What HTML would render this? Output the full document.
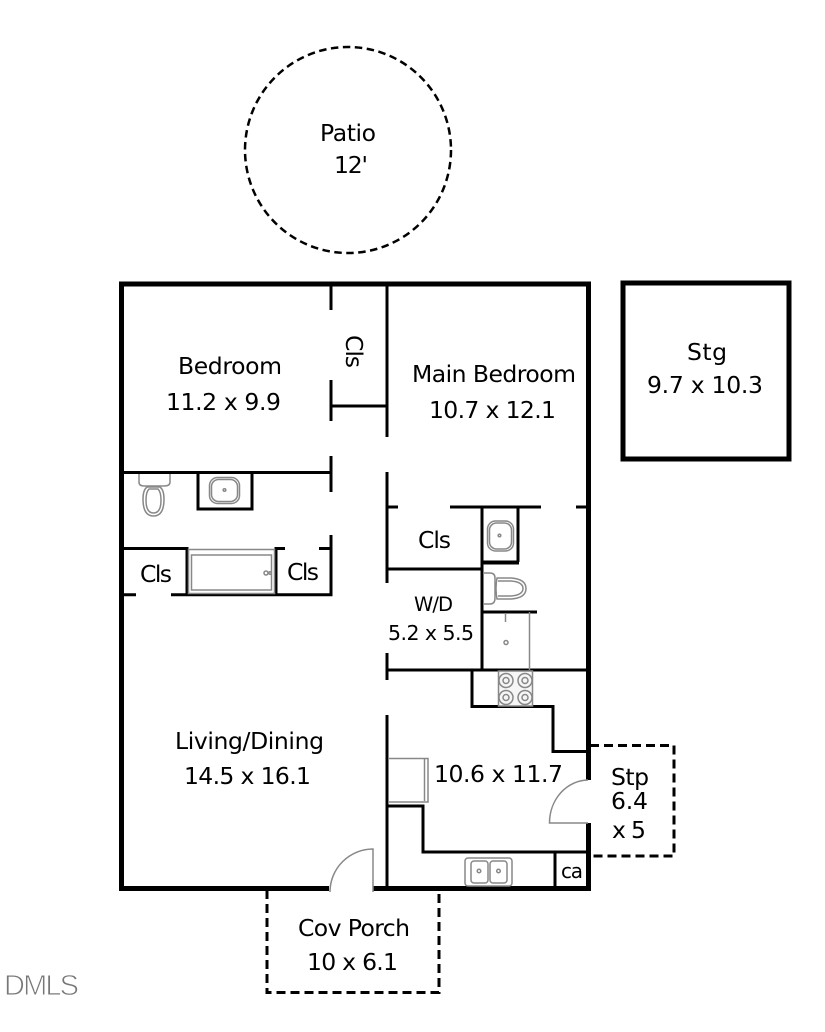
<!DOCTYPE html>
<html><head><meta charset="utf-8"><style>
html,body{margin:0;padding:0;background:#fff;width:825px;height:1032px;overflow:hidden}
svg{display:block}
text{font-family:"DejaVu Sans",sans-serif;font-size:23.5px;fill:#000}
.w{stroke:#000;stroke-width:3;fill:none}
.g{stroke:#888;stroke-width:1.5;fill:none}
.d{stroke:#000;stroke-width:3;fill:none;stroke-dasharray:9 5}
</style></head><body>
<svg width="825" height="1032" viewBox="0 0 825 1032" xmlns="http://www.w3.org/2000/svg">
<rect width="825" height="1032" fill="#fff"/>
<circle cx="348" cy="150" r="103" fill="none" stroke="#000" stroke-width="2.5" stroke-dasharray="7.5 4.5"/>
<path d="M590 745.5H674V856H590" class="d"/>
<path d="M267 890V992.5H439V890" class="d"/>
<rect x="623" y="283" width="166" height="176" fill="none" stroke="#000" stroke-width="5"/>
<path d="M329 888.5H121.5V284H588.5V780M588.5 823V888.5H373" fill="none" stroke="#000" stroke-width="5"/>
<path class="w" d="M331 284V310M331 380V421M331 456V492M387 284V437M331 406H387M121 472.500H331M198 472V509H252V472M196.500 509H253.500"/>
<path class="w" d="M121 548.500H187V595M121 594.700H136M171 594.700H331V535M276 595V548.500H285M319 548.500H331"/>
<path class="w" d="M387 472V583M387 653V680M387 715V888M387 507H398M450 507H541M576 507H588M482 507V670M518 507V562M482 562.500H518M387 569H482M482 612H537M387 670H588M472 670V706.500H553V751.500H588M387 806H423V852H588M555 852V888"/>
<path d="M482 562.500H519" stroke="#000" stroke-width="4"/>
<g class="g">
<rect x="188.500" y="549.500" width="86" height="44"/><rect x="191.500" y="555" width="80" height="35"/>
<circle cx="266" cy="573" r="2"/><circle cx="270" cy="573" r="1.200"/>
<rect x="209.500" y="477.500" width="30" height="26" rx="8"/><rect x="211.500" y="479.500" width="26" height="22" rx="7"/><circle cx="224.500" cy="490" r="1.300"/>
<path d="M139 474V482Q139 486 144 486H164Q170 486 170 482V474"/>
<path d="M147 487H160Q164 490 164 499Q164 516 153.500 516Q143 516 143 499Q143 490 147 487Z"/>
<path d="M149 489H158Q161 492 161 500Q161 513 153.500 513Q146 513 146 500Q146 492 149 489Z"/>
<rect x="487.500" y="521" width="26" height="30" rx="8"/><rect x="489.500" y="523" width="22" height="26" rx="7"/><circle cx="499.500" cy="535.500" r="1.300"/>
<path d="M483 573H490Q495 573 495 578V598Q495 604 490 604H483"/>
<path d="M497 578H511Q526 579 526 588.500Q526 598 511 599H497Q495 589 497 578Z"/><path d="M498 581H511Q523 582 523 588.500Q523 595 511 596H498"/>
<path d="M529.500 612V670"/><path d="M505.500 613V622"/><circle cx="506" cy="642.500" r="2"/>
<rect x="498.500" y="671" width="34" height="35" fill="#f6f6f6"/>
<circle cx="506" cy="680.500" r="7"/><circle cx="506" cy="680.500" r="3"/>
<circle cx="525" cy="680.500" r="7"/><circle cx="525" cy="680.500" r="3"/>
<circle cx="506" cy="697.500" r="7"/><circle cx="506" cy="697.500" r="3"/>
<circle cx="525" cy="697.500" r="7"/><circle cx="525" cy="697.500" r="3"/>
<path d="M388 758.500H428V802H388"/><path d="M424.500 759V801"/>
<rect x="465" y="858" width="47" height="28" rx="3"/>
<rect x="471" y="861" width="17" height="22" rx="3"/><rect x="490" y="861" width="17" height="22" rx="3"/>
<circle cx="479" cy="871" r="1.800"/><circle cx="498.500" cy="871" r="1.800"/>
<path d="M588 780A39 43 0 0 0 549.500 823H588"/>
<path d="M330 892A43 43 0 0 1 373 849V892"/>
</g>
<text x="320" y="141" textLength="56">Patio</text>
<text x="334" y="173" textLength="34">12'</text>
<text x="178" y="374" textLength="104">Bedroom</text>
<text x="166" y="410" textLength="115">11.2 x 9.9</text>
<text transform="translate(346 335) rotate(90)" textLength="33">Cls</text>
<text x="412" y="382" textLength="164">Main Bedroom</text>
<text x="429" y="418" textLength="127">10.7 x 12.1</text>
<text x="687" y="360" textLength="40">Stg</text>
<text x="647" y="393" textLength="116">9.7 x 10.3</text>
<text x="418" y="548" textLength="33">Cls</text>
<text x="140" y="582" textLength="32">Cls</text>
<text x="287" y="580" textLength="32">Cls</text>
<text x="414" y="611" textLength="39" style="font-size:19.5px">W/D</text>
<text x="388" y="640" textLength="86" style="font-size:20.5px">5.2 x 5.5</text>
<text x="175" y="749" textLength="149">Living/Dining</text>
<text x="184" y="784" textLength="127">14.5 x 16.1</text>
<text x="434" y="782" textLength="129">10.6 x 11.7</text>
<text x="611" y="785" textLength="38">Stp</text>
<text x="611" y="809" textLength="37">6.4</text>
<text x="612" y="838" textLength="34">x 5</text>
<text x="561" y="878" textLength="22" style="font-size:20px">ca</text>
<text x="298" y="936" textLength="112">Cov Porch</text>
<text x="307" y="970" textLength="91">10 x 6.1</text>
<text x="4" y="995" textLength="75" style="font-family:'Liberation Sans',sans-serif;font-size:29px;fill:#777;stroke:#fff;stroke-width:.9px">DMLS</text>
</svg>
</body></html>
